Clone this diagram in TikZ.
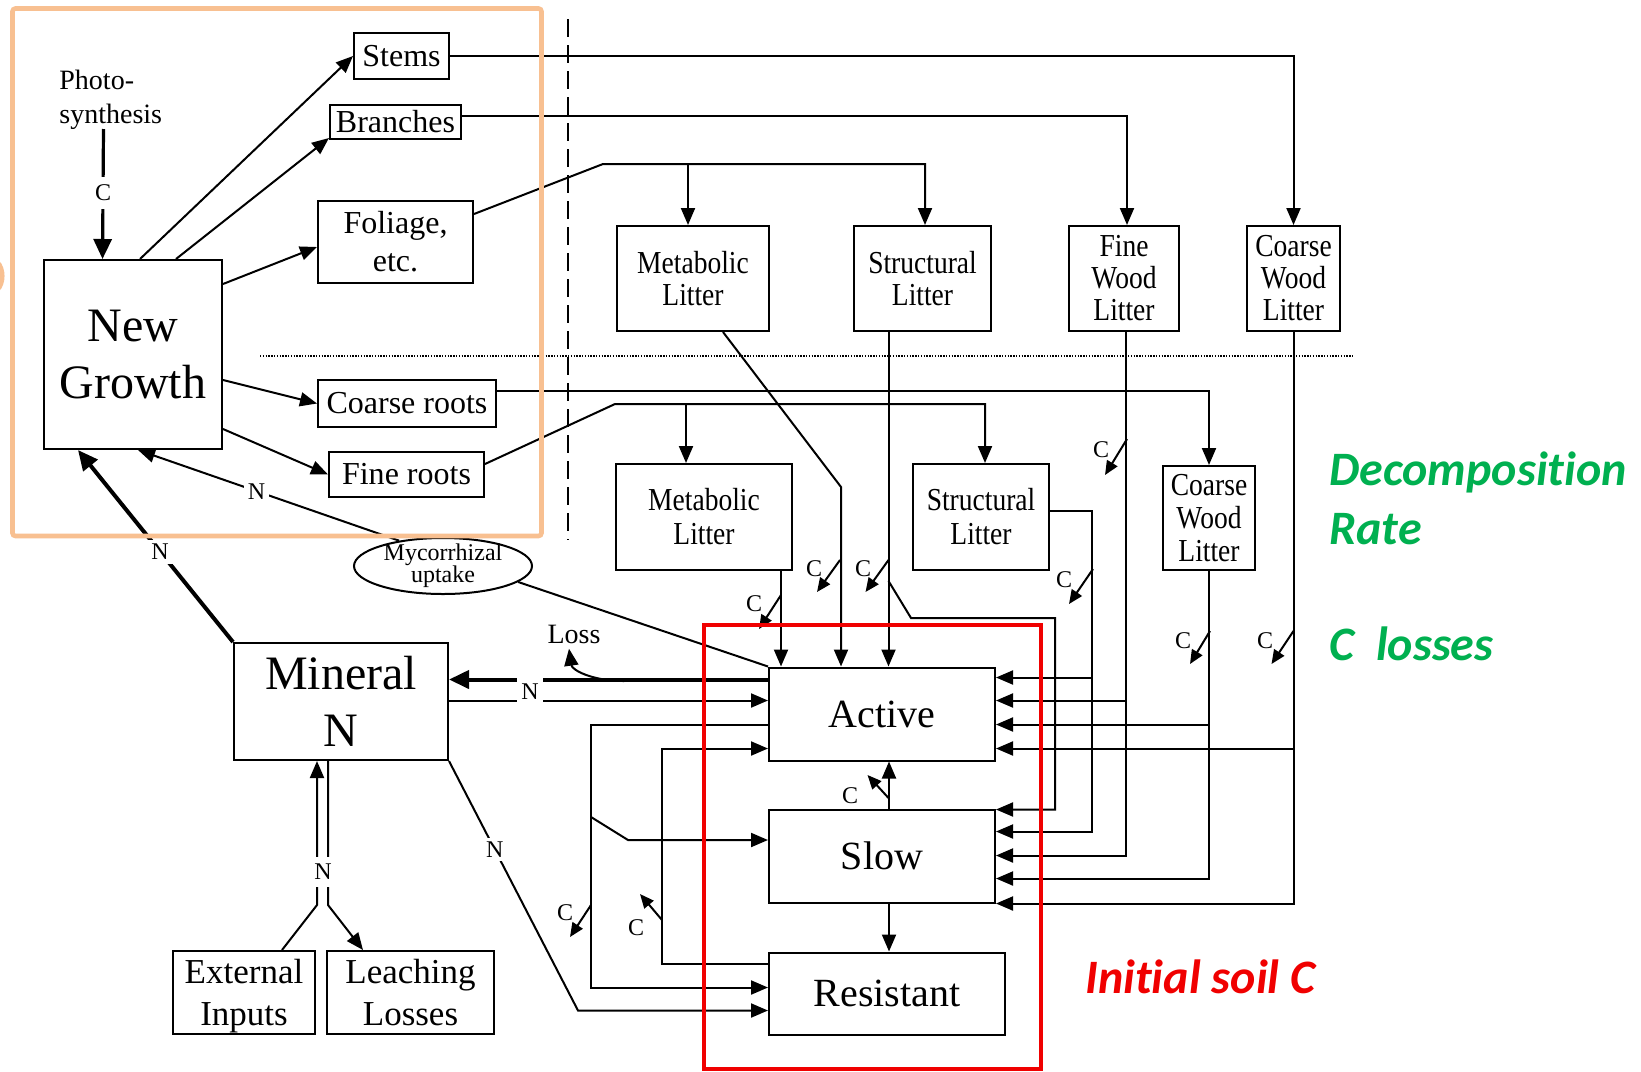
\documentclass[tikz,border=0pt]{standalone}
\usepackage{fontspec}
\setmainfont{Liberation Serif}
\newfontfamily\condfont{Liberation Serif}[FakeStretch=0.86]
\newfontfamily\calfont{Carlito}[Ligatures=NoCommon]
\usetikzlibrary{arrows.meta,calc,shapes.geometric}
\newdimen\pxu \pxu=0.5pt
\newcommand\fsz[2]{\fontsize{#1}{#2}\selectfont}
\definecolor{orangebox}{RGB}{248,192,145}
\definecolor{redbox}{RGB}{240,0,0}
\definecolor{greentxt}{RGB}{0,176,80}
\begin{document}
\begin{tikzpicture}[x=0.5pt,y=-0.5pt,
  box/.style={draw, line width=1pt, inner sep=0pt, align=center},
  bsz/.style 2 args={minimum width=#1\pxu, minimum height=#2\pxu},
  ln/.style={line width=1pt},
  arr/.style={line width=1pt, -{Triangle[length=8.5pt,width=7pt]}},
  tarr/.style={line width=2pt, -{Triangle[length=10pt,width=9pt]}},
  parr/.style={line width=1.6pt, -{Triangle[length=10pt,width=9pt]}},
  carr/.style={line width=1pt, -{Triangle[length=7pt,width=6pt]}},
  lbl/.style={font=\fsz{12}{12}, inner sep=0pt},
  gap/.style={font=\fsz{12}{12}, fill=white, inner sep=2pt},
  note/.style={font=\calfont\bfseries\itshape\fsz{24}{30}, inner sep=0pt, anchor=base west},
]
\fill[white] (0,0) rectangle (1641,1071);
\useasboundingbox (0,0) rectangle (1641,1071);

% ---------- nodes ----------
\node[box, bsz={95}{46}, font=\fsz{16}{16}] (stems) at (401.5,56) {Stems};
\node[box, bsz={131}{34}, font=\fsz{16}{16}] (br) at (395.5,122) {Branches};
\node[box, bsz={155}{82}, font=\fsz{16}{19}] (fol) at (395.5,242) {Foliage,\\etc.};
\node[box, bsz={178}{189}, font=\fsz{24}{28.5}] (ng) at (133,354.5) {New\\Growth};
\node[box, bsz={178}{47}, font=\fsz{16}{16}] (cr) at (407,403.5) {Coarse roots};
\node[box, bsz={155}{45}, font=\fsz{16}{16}] (fr) at (406.5,474.5) {Fine roots};
\node[anchor=north west, inner sep=0pt, align=left, font=\fsz{14}{17}] (ps) at (59,70) {Photo-\\synthesis};

\node[box, bsz={152}{105}, font=\condfont\fsz{16}{16}] (ml1) at (693,278.5) {Metabolic\\Litter};
\node[box, bsz={137}{105}, font=\condfont\fsz{16}{16}] (sl1) at (922.5,278.5) {Structural\\Litter};
\node[box, bsz={110}{105}, font=\condfont\fsz{16}{16}] (fwl) at (1124,278.5) {Fine\\Wood\\Litter};
\node[box, bsz={93}{105}, font=\condfont\fsz{16}{16}] (cwl1) at (1293.5,278.5) {Coarse\\Wood\\Litter};
\node[box, bsz={176}{106}, font=\condfont\fsz{16}{17}] (ml2) at (704,517) {Metabolic\\Litter};
\node[box, bsz={136}{106}, font=\condfont\fsz{16}{17}] (sl2) at (981,517) {Structural\\Litter};
\node[box, bsz={92}{104}, font=\condfont\fsz{16}{16.5}] (cwl2) at (1209,518) {Coarse\\Wood\\Litter};

\node[box, bsz={226}{93}, font=\fsz{20}{20}] (act) at (882,714) {Active};
\node[box, bsz={226}{93}, font=\fsz{20}{20}] (slow) at (882,856) {Slow};
\node[box, bsz={236}{82}, font=\fsz{20}{20}] (res) at (887,993.5) {Resistant};

\node[box, bsz={214}{117}, font=\fsz{24}{28.5}] (mn) at (341,701.5) {Mineral\\N};
\node[box, bsz={142}{83}, font=\fsz{17.5}{21}, text depth=0pt] (ei) at (244,992.5) {External\\Inputs};
\node[box, bsz={167}{83}, font=\fsz{17.5}{21}] (ll) at (410.5,992.5) {Leaching\\Losses};
\node[draw, ellipse, line width=1pt, inner xsep=0pt, inner ysep=-4pt, minimum width=178\pxu, minimum height=56\pxu, align=center, font=\fsz{12}{11}] (my) at (443,566) {Mycorrhizal\\uptake};
\node[inner sep=0pt, font=\fsz{14}{14}] (loss) at (574,634) {Loss};

% ---------- row coordinates ----------
\coordinate (ar1) at ([yshift=-11\pxu]act.north east);
\coordinate (ar2) at ([yshift=-34\pxu]act.north east);
\coordinate (ar3) at ([yshift=-58\pxu]act.north east);
\coordinate (ar4) at ([yshift=-82\pxu]act.north east);
\coordinate (sr1) at ([yshift=-1\pxu]slow.north east);
\coordinate (sr2) at ([yshift=-23\pxu]slow.north east);
\coordinate (sr3) at ([yshift=-47\pxu]slow.north east);
\coordinate (sr4) at ([yshift=-70\pxu]slow.north east);
\coordinate (sr5) at (slow.south east);
\coordinate (al1) at ([yshift=-13\pxu]act.north west);
\coordinate (al2) at ([yshift=-34\pxu]act.north west);
\coordinate (al3) at ([yshift=-58\pxu]act.north west);
\coordinate (al4) at ([yshift=-82\pxu]act.north west);
\coordinate (r0) at ([yshift=30\pxu]res.west);
\coordinate (r1) at ([yshift=6\pxu]res.west);
\coordinate (r2) at ([yshift=-17\pxu]res.west);

% ---------- dividers ----------
\draw[line width=1pt, dash pattern=on 9pt off 4pt] (568,19) -- (568,540);
\draw[line width=1pt, dash pattern=on 0.7pt off 0.7pt] (260,356) -- (1353,356);

% ---------- plant ----------
\coordinate (psC) at (103.5,129);
\draw[parr] (psC) -- node[gap, pos=0.49, inner ysep=4pt]{C} ([xshift=59.5\pxu]ng.north west);
\draw[arr] ([xshift=97\pxu]ng.north west) -- (stems.west);
\draw[arr] ([xshift=133\pxu]ng.north west) -- ([yshift=2\pxu]br.south west);
\draw[arr] ([yshift=-25\pxu]ng.north east) -- ([yshift=-5\pxu]fol.west);
\draw[arr] ([yshift=-25.5\pxu]ng.east) -- (cr.west);
\draw[arr] ([yshift=21\pxu]ng.south east) -- (fr.west);

% ---------- litter inputs ----------
\draw[arr] (stems.east) -| (cwl1.north);
\draw[arr] ([yshift=6\pxu]br.east) -| ([xshift=3\pxu]fwl.north);
\coordinate (folk) at (603,164);
\draw[arr] ([yshift=28\pxu]fol.east) -- (folk) -| ([xshift=2.5\pxu]sl1.north);
\coordinate (ml1in) at ([xshift=-5\pxu]ml1.north);
\draw[arr] (ml1in |- folk) -- (ml1in);
\draw[arr] ([yshift=12.5\pxu]cr.east) -| (cwl2.north);
\coordinate (frk) at (615,404);
\draw[arr] ([yshift=10.5\pxu]fr.east) -- (frk) -| ([xshift=4\pxu]sl2.north);
\coordinate (ml2in) at ([xshift=-18\pxu]ml2.north);
\draw[arr] (ml2in |- frk) -- (ml2in);

% ---------- litter to soil ----------
\coordinate (mlb) at (841,487);
\draw[arr] ([xshift=30\pxu]ml1.south) -- (mlb) -- (mlb |- act.north);
\coordinate (s1x) at ([xshift=-34\pxu]sl1.south);
\draw[arr] (s1x) -- (s1x |- act.north);
\coordinate (s1a) at (888.5,581);
\coordinate (s1b) at (911,618);
\coordinate (s1c) at (1055,618);
\draw[arr] (s1a) -- (s1b) -- (s1c) |- (sr1);
\coordinate (m2x) at ([xshift=77\pxu]ml2.south);
\draw[arr] (m2x) -- (m2x |- act.north);

\coordinate (s2k) at (1092,511);
\draw[arr] ([yshift=6\pxu]sl2.east) -- (s2k) |- (sr2);
\draw[arr] (s2k |- ar1) -- (ar1);
\coordinate (fwx) at ([xshift=2\pxu]fwl.south);
\draw[arr] (fwx) |- (sr3);
\draw[arr] (fwx |- ar2) -- (ar2);
\draw[arr] (cwl2.south) |- (sr4);
\draw[arr] (cwl2.south |- ar3) -- (ar3);
\draw[arr] (cwl1.south) |- (sr5);
\draw[arr] (cwl1.south |- ar4) -- (ar4);

% ---------- soil pools ----------
\coordinate (sa) at ([xshift=7\pxu]slow.north);
\draw[arr] (sa) -- (sa |- act.south);
\draw[arr] ([xshift=7\pxu]slow.south) -- ([xshift=2\pxu]res.north);

\coordinate (L1) at (591,817);
\coordinate (L1b) at (628,840);
\draw[arr] (al3) -| (L1) |- (r1);
\draw[arr] (L1) -- (L1b) -- (L1b -| slow.west);
\coordinate (L2) at (662,850);
\draw[arr] (r0) -| (L2) |- (al4);

% ---------- nitrogen ----------
\draw[tarr] (al1) -- (al1 -| mn.east);
\draw[arr] (al2 -| mn.east) -- (al2);
\node[gap, minimum width=12pt, minimum height=18pt] (nmid) at (530,692) {N};
\coordinate (lossk) at (624,681);
\draw[arr] (lossk) .. controls (592,681) and (572,670) .. ([xshift=-5\pxu,yshift=-5\pxu]loss.south);

\coordinate (nk) at (578,1010.5);
\draw[arr] (mn.south east) -- node[gap, pos=0.355]{N} (nk) -- (r2);

\coordinate (ek) at (317,905);
\coordinate (lk) at (328,905);
\draw[arr] ([xshift=38\pxu]ei.north) -- (ek) -- (ek |- mn.south);
\draw[arr] (lk |- mn.south) -- (lk) -- ([xshift=-47.5\pxu]ll.north);
\node[gap, minimum height=15pt] (nbot) at (323,872) {N};

\draw[tarr] (mn.north west) -- node[gap, pos=0.47]{N} ([xshift=35\pxu]ng.south west);
\draw[arr] (my.150) -- node[gap, pos=0.546]{N} ([xshift=95\pxu]ng.south west);
\draw[ln] (my.-12) -- (act.north west);

% ---------- C loss arrows ----------
\foreach \sx/\sy/\dx/\dy/\cx/\cy [count=\i] in {
  1127/439/-22/36/1101/450,
  1093/569/-24/35/1064/580,
  840/560/-23/32/814/569,
  888.5/560/-23/32/863/569,
  781/595/-22/34/754/604,
  1210/631/-20/33/1183/641,
  1293.5/631/-22/33/1265/641,
  888.5/798/-21/-23/850/796,
  591/905/-21/32/565/913,
  662/920/-22/-26/636/928}{
  \coordinate (cs\i) at (\sx,\sy);
  \draw[carr] (cs\i) -- ++(\dx,\dy);
  \node[lbl] (cl\i) at (\cx,\cy) {C};
}

% ---------- highlight boxes ----------
\draw[orangebox, line width=2.3pt, rounded corners=1.5pt] (12.5,8.5) rectangle (541.5,536);
\draw[orangebox, line width=2.3pt] (-3,262) .. controls (4,268) and (4,284) .. (-3,290);
\draw[redbox, line width=2.2pt] (704,625) rectangle (1041,1069);

% ---------- notes ----------
\node[note, text=greentxt] (dec1) at (1329,485) {Decomposition};
\node[note, text=greentxt] (dec2) at (1329,544) {Rate};
\node[note, text=greentxt] (closs) at (1329,660) {C\ \ losses};
\node[note, text=redbox] (isc) at (1085,993) {Initial soil C};
\end{tikzpicture}
\end{document}
